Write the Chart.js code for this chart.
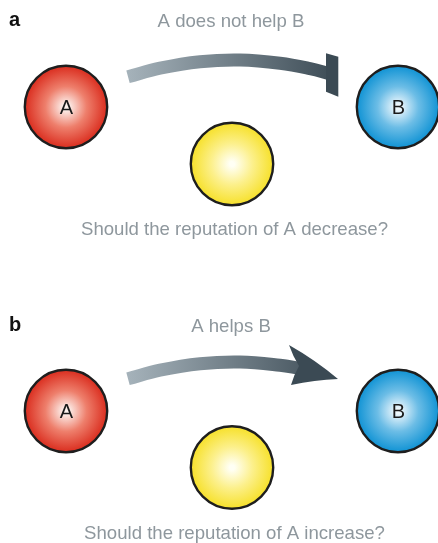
<!DOCTYPE html>
<html><head><meta charset="utf-8">
<script src="https://cdn.jsdelivr.net/npm/chart.js@4"></script>
<style>html,body{margin:0;padding:0;background:#fff}#wrap{width:438px;height:543px}</style>
</head><body><div id="wrap"><canvas id="c" width="438" height="543"></canvas></div>
<script>
// ---- data ----
const panelLetters = ['a', 'b'];
const panelTitles = ['A does not help B', 'A helps B'];
const panelQuestions = ['Should the reputation of A decrease?', 'Should the reputation of A increase?'];
const nodeLabels = ['A', 'B', ''];
const nodeX = [66, 398, 232];
const nodeYa = [107, 107, 164];
const nodeYb = [411, 411, 467.5];
const arcXa = [128, 160, 200, 240, 280, 310, 331];
const arcYa = [76.8, 68.2, 61.7, 60, 63.2, 68.6, 74];
const arcXb = [128, 160, 200, 240, 280, 300];
const arcYb = [378.8, 370.2, 363.7, 362, 365.2, 368.5];
const barX = [326, 338.3, 338.3, 326];
const barY = [53.3, 56.7, 96.7, 91.7];
const headX = [338, 289, 299, 291];
const headY = [379, 345, 366, 385];

// ---- styles ----
const edgeColors = ['#dc3526', '#1997d6', '#f7e234'];
const midColors = ['#ee7f6c', '#6cbde6', '#fcf08c'];
const centerColors = ['#fdf2ee', '#eff8fd', '#fffff4'];
const NODE_R = 41.2;
const FONT = '"Liberation Sans", Arial, Helvetica, sans-serif';

function nodePoints(ys) {
  return nodeX.map((x, i) => ({ x: x, y: ys[i] }));
}
function arcPoints(xs, ys) {
  return xs.map((x, i) => ({ x: x, y: ys[i] }));
}
function radialFill(ctx) {
  const ch = ctx.chart;
  const i = ctx.dataIndex;
  if (ctx.type !== 'data' || !ch.chartArea) return edgeColors[i] || '#ccc';
  const px = ch.scales.x.getPixelForValue(ctx.raw.x);
  const py = ch.scales.y.getPixelForValue(ctx.raw.y);
  const g = ch.ctx.createRadialGradient(px, py, 0, px, py, NODE_R);
  g.addColorStop(0, centerColors[i]);
  g.addColorStop(0.06, centerColors[i]);
  g.addColorStop(0.5, midColors[i]);
  g.addColorStop(0.95, edgeColors[i]);
  g.addColorStop(1, edgeColors[i]);
  return g;
}
function shaftStroke(ctx) {
  const ch = ctx.chart;
  if (!ch.chartArea) return '#7f8d96';
  const g = ch.ctx.createLinearGradient(ch.scales.x.getPixelForValue(128), 0, ch.scales.x.getPixelForValue(338), 0);
  g.addColorStop(0, '#a5b2ba');
  g.addColorStop(1, '#3b4a54');
  return g;
}

const shaftStyle = {
  type: 'line', borderWidth: 13, pointRadius: 0, tension: 0.4,
  borderCapStyle: 'butt', fill: false, borderColor: shaftStroke, showLine: true
};
const nodeStyle = {
  type: 'scatter', pointRadius: NODE_R, pointHoverRadius: NODE_R,
  backgroundColor: radialFill, borderColor: '#1e1e1e', borderWidth: 2.4, pointBorderWidth: 2.4
};

const decorPlugin = {
  id: 'decor',
  afterDatasetsDraw(chart) {
    const { ctx, scales: { x, y } } = chart;
    ctx.save();
    // bar end (panel a)
    ctx.fillStyle = '#3b4a54';
    ctx.beginPath();
    barX.forEach((v, i) => { const px = x.getPixelForValue(v), py = y.getPixelForValue(barY[i]); i ? ctx.lineTo(px, py) : ctx.moveTo(px, py); });
    ctx.closePath(); ctx.fill();
    // arrow head (panel b)
    ctx.beginPath();
    const P = headX.map((v, i) => [x.getPixelForValue(v), y.getPixelForValue(headY[i])]);
    ctx.moveTo(P[0][0], P[0][1]);
    ctx.quadraticCurveTo((P[0][0] + P[1][0]) / 2 + 2, (P[0][1] + P[1][1]) / 2 - 2, P[1][0], P[1][1]);
    ctx.quadraticCurveTo((P[1][0] + P[2][0]) / 2 - 1, (P[1][1] + P[2][1]) / 2 + 1, P[2][0], P[2][1]);
    ctx.quadraticCurveTo((P[2][0] + P[3][0]) / 2 - 1, (P[2][1] + P[3][1]) / 2 - 1, P[3][0], P[3][1]);
    ctx.quadraticCurveTo((P[3][0] + P[0][0]) / 2, (P[3][1] + P[0][1]) / 2 - 2, P[0][0], P[0][1]);
    ctx.closePath(); ctx.fill();

    // node labels
    ctx.fillStyle = '#1a1a1a';
    ctx.font = '20px ' + FONT;
    ctx.textAlign = 'center';
    ctx.textBaseline = 'middle';
    [nodeYa, nodeYb].forEach(ys => {
      nodeLabels.forEach((t, i) => {
        if (t) ctx.fillText(t, x.getPixelForValue(nodeX[i]) + 0.5, y.getPixelForValue(ys[i]) + 1.5);
      });
    });

    // panel texts
    const titleBase = [27, 331.5];
    const questionBase = [235, 539];
    const letterBase = [26, 331];
    ctx.textBaseline = 'alphabetic';
    panelLetters.forEach((L, k) => {
      ctx.fillStyle = '#111';
      ctx.font = 'bold 20px ' + FONT;
      ctx.textAlign = 'left';
      ctx.fillText(L, 9, letterBase[k]);
      ctx.fillStyle = '#8e979d';
      ctx.font = '18.6px ' + FONT;
      ctx.textAlign = 'center';
      ctx.fillText(panelTitles[k], 231, titleBase[k]);
      ctx.fillText(panelQuestions[k], 234.5, questionBase[k]);
    });
    ctx.restore();
  }
};

new Chart(document.getElementById('c'), {
  type: 'scatter',
  data: {
    datasets: [
      Object.assign({ label: 'A does not help B', data: arcPoints(arcXa, arcYa) }, shaftStyle),
      Object.assign({ label: 'A helps B', data: arcPoints(arcXb, arcYb) }, shaftStyle),
      Object.assign({ label: 'panel a', data: nodePoints(nodeYa) }, nodeStyle),
      Object.assign({ label: 'panel b', data: nodePoints(nodeYb) }, nodeStyle)
    ]
  },
  options: {
    responsive: false,
    animation: false,
    events: [],
    layout: { padding: 0, autoPadding: false },
    plugins: { legend: { display: false }, tooltip: { enabled: false }, title: { display: false } },
    scales: {
      x: { type: 'linear', min: 0, max: 438, display: false },
      y: { type: 'linear', min: 0, max: 543, reverse: true, display: false }
    }
  },
  plugins: [decorPlugin]
});
</script>
</body></html>
